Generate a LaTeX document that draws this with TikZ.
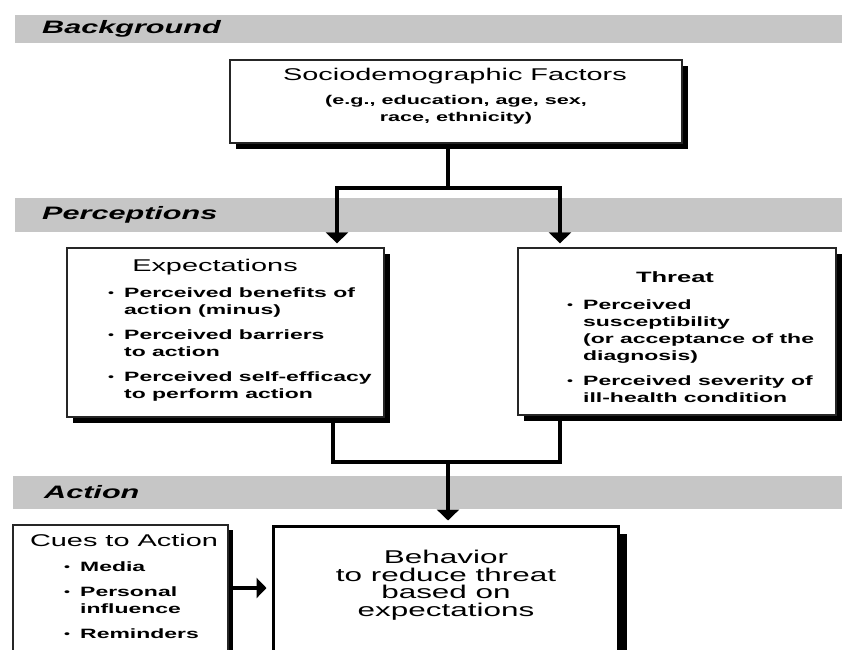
\documentclass[tikz,border=0pt]{standalone}
\usepackage{fontspec}
\setmainfont{Liberation Sans}[FakeStretch=1.7]
\usetikzlibrary{positioning,arrows.meta}

\newcommand{\bul}{\makebox[16pt][l]{\fontsize{10}{10}\selectfont\raisebox{1pt}{\textbullet}}}
\newcommand{\ind}{\hspace*{16pt}}

\tikzset{
  band/.style={fill=gray!45},
  bandlabel/.style={anchor=west, inner sep=0pt, font=\fontsize{18}{20}\selectfont\bfseries\itshape},
  shade/.style={fill=black},
  box/.style={draw=black!85, line width=1.3pt, fill=white, inner sep=0pt},
  bigbox/.style={draw=black, line width=3pt, fill=white, inner sep=0pt},
  titletext/.style={inner sep=0pt, font=\fontsize{17}{20}\selectfont},
  subtext/.style={inner sep=0pt, align=center, font=\fontsize{12.7}{17}\selectfont\bfseries},
  listtext/.style={inner sep=0pt, anchor=west, align=left, font=\fontsize{13.5}{17}\selectfont\bfseries},
  conn/.style={draw=black, line width=4.5pt},
  tip/.style={-{Triangle[width=22pt,length=11pt]}, shorten >=4pt}
}

\begin{document}
\begin{tikzpicture}[x=1pt,y=-1pt]
\useasboundingbox (0,0) rectangle (842,649);
\clip (0,0) rectangle (842,649);

% grey bands
\fill[band] (15,15) rectangle (842,43);
\fill[band] (15,198) rectangle (842,232);
\fill[band] (13,476) rectangle (842,509);
\node[bandlabel] (bglabel) at (42,29) {Background};
\node[bandlabel] (perlabel) at (42,215) {Perceptions};
\node[bandlabel] (actlabel) at (44,492.5) {Action};

% shadows
\fill[shade] (236,66) rectangle (688,149);
\fill[shade] (73,254) rectangle (390,423);
\fill[shade] (524,254) rectangle (842,421);
\fill[shade] (18,530) rectangle (233,700);
\fill[shade] (281,534) rectangle (627,700);

% boxes
\node[box, minimum width=452pt, minimum height=83pt] (socio) at (456,101.5) {};
\node[box, minimum width=317pt, minimum height=169pt] (exp) at (225.5,332.5) {};
\node[box, minimum width=318pt, minimum height=167pt] (thr) at (677,331.5) {};
\node[box, minimum width=215pt, minimum height=165pt] (cues) at (120.5,607.5) {};
\node[bigbox, minimum width=345pt, minimum height=164pt] (beh) at (445.5,608) {};

% texts
\node[titletext] (sociotitle) at (455,76) {Sociodemographic Factors};
\node[subtext] (sociosub) at (456,110) {(e.g., education, age, sex,\\race, ethnicity)};

\node[titletext] (exptitle) at (215,267) {Expectations};
\node[listtext] (explist) at (108,344) {\bul Perceived benefits of\\\ind action (minus)\\[8pt]\bul Perceived barriers\\\ind to action\\[8pt]\bul Perceived self-efficacy\\\ind to perform action};

\node[titletext, font=\fontsize{15}{18}\selectfont\bfseries] (thrtitle) at (675,277) {Threat};
\node[listtext] (thrlist) at (567,351.5) {\bul Perceived\\\ind susceptibility\\\ind (or acceptance of the\\\ind diagnosis)\\[8pt]\bul Perceived severity of\\\ind ill-health condition};

\node[titletext] (cuestitle) at (124,540) {Cues to Action};
\node[listtext] (cueslist) at (64,600.5) {\bul Media\\[8pt]\bul Personal\\\ind influence\\[8pt]\bul Reminders};

\node[inner sep=0pt, align=center, font=\fontsize{18.5}{17.5}\selectfont] (behtext) at (446,585) {Behavior\\to reduce threat\\based on\\expectations};

% connectors
\coordinate (split) at (448,188);
\coordinate (lsplit) at (337,188);
\coordinate (rsplit) at (560,188);
\coordinate (join) at (448,462);
\coordinate (ljoin) at (333,462);
\coordinate (rjoin) at (560,462);
\coordinate (cuearrow) at (0,588);

\draw[conn] (socio.south -| split) -- (split);
\draw[conn,tip] (split) -| (exp.north -| lsplit);
\draw[conn,tip] (split) -| (thr.north -| rsplit);

\draw[conn] (exp.south -| ljoin) |- (join);
\draw[conn] (thr.south -| rjoin) |- (join);
\draw[conn,tip] (join) -- (beh.north -| join);

\draw[conn,-{Triangle[width=20pt,length=10pt]}, shorten >=5pt] (cues.east |- cuearrow) -- (beh.west |- cuearrow);

\end{tikzpicture}
\end{document}
